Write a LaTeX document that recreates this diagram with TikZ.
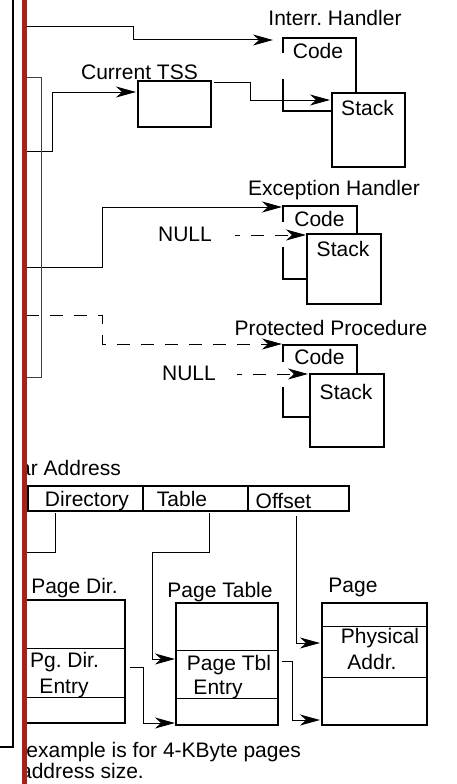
\documentclass[tikz,border=0pt]{standalone}
\usepackage{fontspec}
\setmainfont{Liberation Sans}
\usetikzlibrary{arrows.meta}
\definecolor{redbar}{RGB}{168,32,22}
\frenchspacing
\begin{document}
\begin{tikzpicture}[x=1pt,y=-1pt,
  box/.style={draw,line width=1.9pt,inner sep=0,outer sep=0,anchor=north west},
  thick box line/.style={line width=1.9pt},
  conn/.style={line width=1pt},
  tip/.style={-{Stealth[length=20pt,width=11pt,inset=6pt]}},
  arr/.style={conn,tip},
  dashconn/.style={conn,dash pattern=on 13pt off 11pt},
  dasharr/.style={dashconn,tip},
  lbl/.style={font=\fontsize{21}{24}\selectfont,inner sep=0,anchor=base}]
\useasboundingbox (0,0) rectangle (457,784);

% ---------- Interrupt handler ----------
\node[lbl] (tIH) at (335,26) {Interr. Handler};
\node[box,minimum width=73pt,minimum height=74pt] (stackA) at (332,93) {};
\draw[thick box line] (283,53) -- (283,38) -- (356,38) -- (356,0 |- stackA.north);
\draw[thick box line] (283,79) -- (283,111) -- (stackA.west |- 0,111);
\node[lbl] (cA) at (318,59) {Code};
\node[lbl] (sA) at (367.5,115) {Stack};

% ---------- Current TSS ----------
\node[lbl] (tTSS) at (139.5,79) {Current TSS};
\node[box,minimum width=73pt,minimum height=46pt] (tss) at (138,81) {};

% ---------- Exception handler ----------
\node[lbl] (tEH) at (334,195) {Exception Handler};
\node[box,minimum width=74pt,minimum height=70pt] (stackB) at (307,234) {};
\draw[thick box line] (283,222) -- (283,206) -- (357,206) -- (357,0 |- stackB.north);
\draw[thick box line] (283,247) -- (283,279) -- (stackB.west |- 0,279);
\node[lbl] (cB) at (319.5,226) {Code};
\node[lbl] (sB) at (343,256) {Stack};
\node[lbl] (nB) at (185,241) {NULL};

% ---------- Protected procedure ----------
\node[lbl] (tPP) at (331,335) {Protected Procedure};
\node[box,minimum width=74pt,minimum height=73pt] (stackC) at (310,374) {};
\draw[thick box line] (283,362) -- (283,345) -- (357,345) -- (357,0 |- stackC.north);
\draw[thick box line] (283,387) -- (283,417) -- (stackC.west |- 0,417);
\node[lbl] (cC) at (319.5,364) {Code};
\node[lbl] (sC) at (346,399) {Stack};
\node[lbl] (nC) at (189,380) {NULL};

% ---------- connector end points ----------
\coordinate (bar27) at (26,27);
\coordinate (bar151) at (26,151);
\coordinate (bar267) at (26,267);
\coordinate (bar315) at (26,315);
\coordinate (codeAin) at (273,40);
\coordinate (tssin) at (136,92);
\coordinate (tssout) at (214,82);
\coordinate (stackAin) at (330,100);
\coordinate (codeBin) at (282,207);
\coordinate (nullBout) at (235,235);
\coordinate (stackBin) at (306,235);
\coordinate (codeCin) at (282,344);
\coordinate (nullCout) at (237,374);
\coordinate (stackCin) at (308,374);

\draw[arr] (bar27) -- (133,27) -- (133,40) -- (codeAin);
\draw[arr] (bar151) -- (52,151) -- (52,92) -- (tssin);
\draw[arr] (tssout) -- (250,82) -- (250,100) -- (stackAin);
\draw[arr] (bar267) -- (102,267) -- (102,207) -- (codeBin);
\draw[dasharr,dash phase=8pt] (nullBout) -- (stackBin);
\draw[dasharr] (bar315) -- (102,315) -- (102,344) -- (codeCin);
\draw[dasharr,dash phase=8pt] (nullCout) -- (stackCin);
\draw[line width=0.9pt,black!75] (26,77) -- (41,77) -- (41,377) -- (26,377);

% ---------- paging part (clipped at the bar) ----------
\begin{scope}
\clip (24,0) rectangle (457,784);
\node[lbl,anchor=base east] (tLA) at (121,475) {Linear Address};
\node[box,minimum width=349pt,minimum height=25pt] (la) at (0,486) {};
\draw[thick box line] (28,486) -- (28,511);
\draw[thick box line] (143,486) -- (143,511);
\draw[thick box line] (248,486) -- (248,511);
\node[lbl] (fDir) at (87,506) {Directory};
\node[lbl] (fTab) at (182,506) {Table};
\node[lbl] (fOff) at (283.5,508) {Offset};

\node[lbl] (tPD) at (74.5,593) {Page Dir.};
\node[box,minimum width=125pt,minimum height=123pt] (pdir) at (0,600) {};
\draw[conn] (pdir.west |- 0,648) -- (pdir.east |- 0,648);
\draw[conn] (pdir.west |- 0,697) -- (pdir.east |- 0,697);
\node[lbl] (ePD1) at (64.5,667) {Pg. Dir.};
\node[lbl] (ePD2) at (64,693) {Entry};

\coordinate (dirout) at (55,513);
\draw[conn] (dirout) -- (55,552) -- (0,552);

\node[lbl,anchor=base east] (note1) at (301,757) {example is for 4-KByte pages};
\node[lbl,anchor=base east] (note2) at (144,778) {address size.};
\end{scope}

\node[lbl] (tPT) at (220,597) {Page Table};
\node[box,minimum width=102pt,minimum height=122pt] (ptab) at (176,603) {};
\draw[conn] (ptab.west |- 0,650) -- (ptab.east |- 0,650);
\draw[conn] (ptab.west |- 0,698) -- (ptab.east |- 0,698);
\node[lbl] (ePT1) at (229,670) {Page Tbl};
\node[lbl] (ePT2) at (218,694) {Entry};

\node[lbl] (tPG) at (353,592) {Page};
\node[box,minimum width=105pt,minimum height=122pt] (page) at (322,603) {};
\draw[conn] (page.west |- 0,626) -- (page.east |- 0,626);
\draw[conn] (page.west |- 0,677) -- (page.east |- 0,677);
\node[lbl] (ePG1) at (380,643) {Physical};
\node[lbl] (ePG2) at (372,669) {Addr.};

\coordinate (tabout) at (209,513);
\coordinate (offout) at (296,516);
\coordinate (ptabin1) at (175,659);
\coordinate (ptabin2) at (175,723);
\coordinate (pdirout) at (130,667);
\coordinate (ptabout) at (282,661);
\coordinate (pagein1) at (320,643);
\coordinate (pagein2) at (320,720);

\draw[arr] (tabout) -- (209,552) -- (152,552) -- (152,659) -- (ptabin1);
\draw[arr] (offout) -- (296,643) -- (pagein1);
\draw[arr] (pdirout) -- (143,667) -- (143,723) -- (ptabin2);
\draw[arr] (ptabout) -- (292,661) -- (292,720) -- (pagein2);

% ---------- left margin ----------
\fill[redbar] (22,0) rectangle (26.5,784);
\draw[line width=1.4pt] (13,0) -- (13,747) -- (0,747);
\end{tikzpicture}
\end{document}
